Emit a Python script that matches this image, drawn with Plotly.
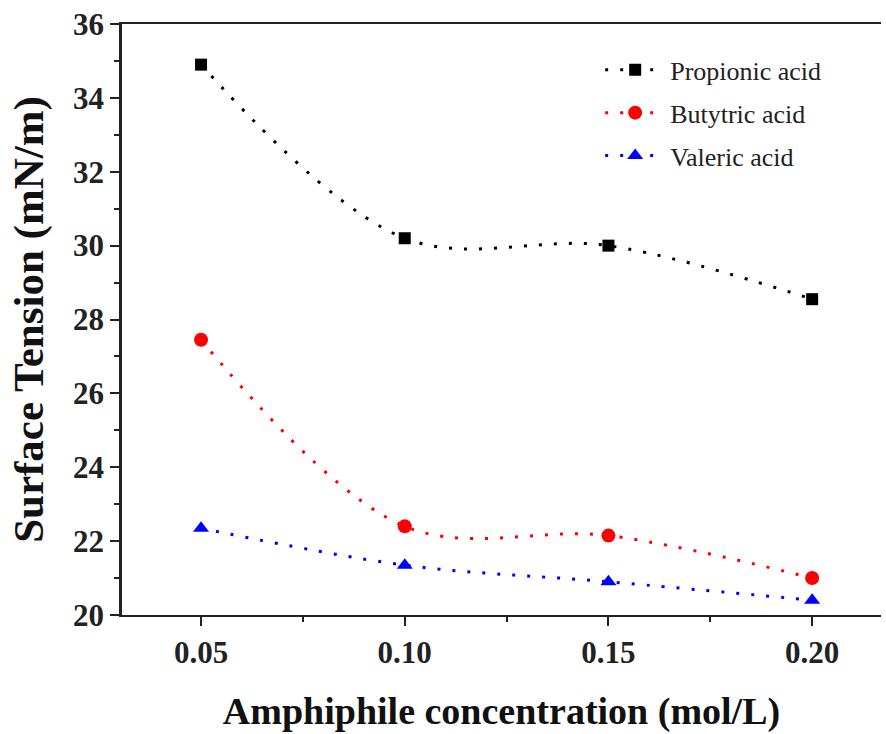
import plotly.graph_objects as go

conc = [0.05, 0.10, 0.15, 0.20]
propionic = [34.9, 30.2, 30.0, 28.55]
butyric = [27.45, 22.4, 22.15, 21.0]
valeric = [22.35, 21.35, 20.9, 20.4]

series = [
    ("Propionic acid", propionic, "#000000", "square", 12),
    ("Butytric acid", butyric, "#FF0000", "circle", 14),
    ("Valeric acid", valeric, "#0000FF", "triangle-up", 14),
]

fig = go.Figure()
for i, (name, vals, col, sym, sz) in enumerate(series):
    fig.add_trace(go.Scatter(
        x=conc, y=vals, name=name, mode="lines+markers", legendgroup=f"g{i}",
        line=dict(color=col, width=3, dash="3px,12px", shape="spline", smoothing=1.0),
        marker=dict(color=col, symbol=sym, size=sz),
    ))

font_family = "Liberation Serif, Times New Roman, serif"
fig.update_layout(
    width=886, height=734,
    margin=dict(l=122, r=5, t=24, b=119),
    paper_bgcolor="white", plot_bgcolor="white",
    font=dict(family=font_family, color="#222"),
    showlegend=True,
    legend=dict(
        x=0.63, y=0.962, xanchor="left", yanchor="top",
        font=dict(size=26, family=font_family, color="#222"),
        bgcolor="rgba(0,0,0,0)", itemwidth=60, tracegroupgap=6,
        traceorder="grouped",
    ),
    xaxis=dict(
        range=[0.0306, 0.2169], tickvals=[0.05, 0.10, 0.15, 0.20],
        ticktext=["0.05", "0.10", "0.15", "0.20"],
        ticks="outside", ticklen=9, tickwidth=2, tickcolor="#222",
        minor=dict(tickvals=[0.075, 0.125, 0.175], ticks="outside", ticklen=5, tickwidth=2, tickcolor="#222"),
        showline=True, linecolor="#222", linewidth=2, mirror=True,
        showgrid=False, zeroline=False,
        tickfont=dict(size=31, family=font_family, color="#222", weight="bold"),
        title=dict(text="<b>Amphiphile concentration (mol/L)</b>", font=dict(size=38, family=font_family, color="#111"), standoff=28),
    ),
    yaxis=dict(
        range=[20, 36], dtick=2, tick0=20,
        ticks="outside", ticklen=9, tickwidth=2, tickcolor="#222",
        minor=dict(dtick=1, ticks="outside", ticklen=5, tickwidth=2, tickcolor="#222"),
        showline=True, linecolor="#222", linewidth=2.5,
        showgrid=False, zeroline=False,
        tickfont=dict(size=31, family=font_family, color="#222", weight="bold"),
        title=dict(text="<b>Surface Tension (mN/m)</b>", font=dict(size=43, family=font_family, color="#111"), standoff=16),
    ),
)

fig.write_html("out.html")
